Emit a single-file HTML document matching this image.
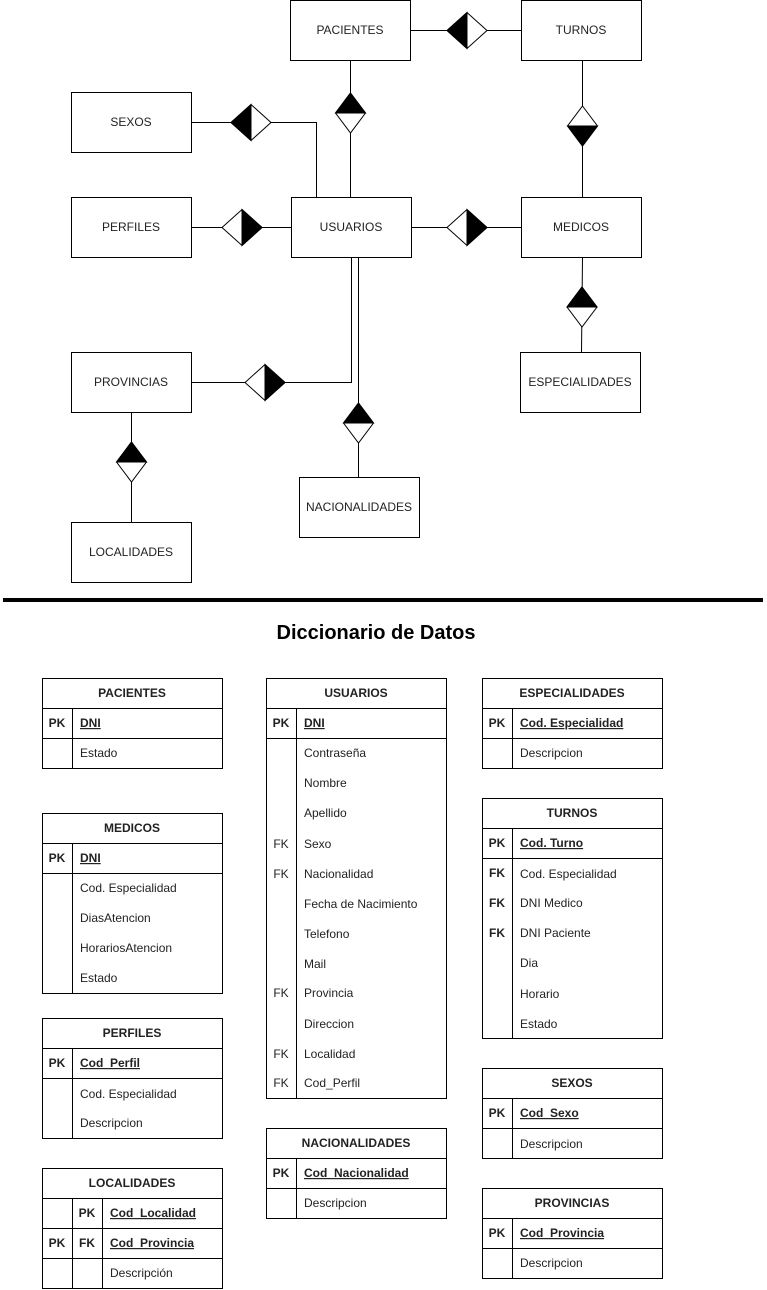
<!DOCTYPE html>
<html><head><meta charset="utf-8"><style>
html,body{margin:0;padding:0;background:#fff;width:767px;height:1290px;overflow:hidden}
svg{display:block;font-family:"Liberation Sans",sans-serif}
</style></head><body>
<svg width="767" height="1290" viewBox="0 0 767 1290" xmlns="http://www.w3.org/2000/svg">
<g fill="#fff" stroke="#000" stroke-width="1">
<rect x="290.5" y="0.5" width="120" height="60"/>
<rect x="521.5" y="0.5" width="120" height="60"/>
<rect x="71.5" y="92.5" width="120" height="60"/>
<rect x="71.5" y="197.5" width="120" height="60"/>
<rect x="291.5" y="197.5" width="120" height="60"/>
<rect x="521.5" y="197.5" width="120" height="60"/>
<rect x="71.5" y="352.5" width="120" height="60"/>
<rect x="520.5" y="352.5" width="120" height="60"/>
<rect x="299.5" y="477.5" width="120" height="60"/>
<rect x="71.5" y="522.5" width="120" height="60"/>
</g>
<g fill="none" stroke="#000" stroke-width="1">
<path d="M410.5 30.5H521.5"/>
<path d="M350.5 60.5V197.5"/>
<path d="M191.5 122.5H316.5V197.5"/>
<path d="M191.5 227.5H291.5"/>
<path d="M411.5 227.5H521.5"/>
<path d="M582.5 60.5V197.5"/>
<path d="M582.5 257.5L581.5 352.5"/>
<path d="M191.5 382.5H351.5V257.5"/>
<path d="M358.5 257.5V477.5"/>
<path d="M131.5 412.5V522.5"/>
</g>
<g stroke="#000" stroke-width="1">
<polygon points="447,30.5 467,12.5 487,30.5 467,48.5" fill="#fff"/><polygon points="447,30.5 467,12.5 467,48.5" fill="#000"/>
<polygon points="231,122.5 251,104.5 271,122.5 251,140.5" fill="#fff"/><polygon points="231,122.5 251,104.5 251,140.5" fill="#000"/>
<polygon points="222,227.5 242,209.5 262,227.5 242,245.5" fill="#fff"/><polygon points="262,227.5 242,209.5 242,245.5" fill="#000"/>
<polygon points="447,227.5 467,209.5 487,227.5 467,245.5" fill="#fff"/><polygon points="487,227.5 467,209.5 467,245.5" fill="#000"/>
<polygon points="245,382.5 265,364.5 285,382.5 265,400.5" fill="#fff"/><polygon points="285,382.5 265,364.5 265,400.5" fill="#000"/>
<polygon points="350.5,93 365.5,113 350.5,133 335.5,113" fill="#fff"/><polygon points="350.5,93 365.5,113 335.5,113" fill="#000"/>
<polygon points="582.5,106 597.5,126 582.5,146 567.5,126" fill="#fff"/><polygon points="582.5,146 597.5,126 567.5,126" fill="#000"/>
<polygon points="582,287 597,307 582,327 567,307" fill="#fff"/><polygon points="582,287 597,307 567,307" fill="#000"/>
<polygon points="358.5,403 373.5,423 358.5,443 343.5,423" fill="#fff"/><polygon points="358.5,403 373.5,423 343.5,423" fill="#000"/>
<polygon points="131.5,442 146.5,462 131.5,482 116.5,462" fill="#fff"/><polygon points="131.5,442 146.5,462 116.5,462" fill="#000"/>
</g>
<g font-size="12" fill="#222" text-anchor="middle">
<text x="350" y="34">PACIENTES</text>
<text x="581" y="34">TURNOS</text>
<text x="131" y="126">SEXOS</text>
<text x="131" y="231">PERFILES</text>
<text x="351" y="231">USUARIOS</text>
<text x="581" y="231">MEDICOS</text>
<text x="131" y="386">PROVINCIAS</text>
<text x="580" y="386">ESPECIALIDADES</text>
<text x="359" y="511">NACIONALIDADES</text>
<text x="131" y="556">LOCALIDADES</text>
</g>
<rect x="3" y="598" width="760" height="4" fill="#000"/>
<text x="376" y="639" font-size="20" font-weight="bold" text-anchor="middle" fill="#000">Diccionario de Datos</text>

<g fill="none" stroke="#000" stroke-width="1">
<rect x="42.5" y="678.5" width="180" height="90"/><path d="M42.5 708.5H222.5M42.5 738.5H222.5M72.5 708.5V768.5"/>
<rect x="42.5" y="813.5" width="180" height="180"/><path d="M42.5 843.5H222.5M42.5 873.5H222.5M72.5 843.5V993.5"/>
<rect x="42.5" y="1018.5" width="180" height="120"/><path d="M42.5 1048.5H222.5M42.5 1078.5H222.5M72.5 1048.5V1138.5"/>
<rect x="42.5" y="1168.5" width="180" height="120"/><path d="M42.5 1198.5H222.5M42.5 1228.5H222.5M42.5 1258.5H222.5M72.5 1198.5V1288.5M102.5 1198.5V1288.5"/>
<rect x="266.5" y="678.5" width="180" height="420"/><path d="M266.5 708.5H446.5M266.5 738.5H446.5M296.5 708.5V1098.5"/>
<rect x="266.5" y="1128.5" width="180" height="90"/><path d="M266.5 1158.5H446.5M266.5 1188.5H446.5M296.5 1158.5V1218.5"/>
<rect x="482.5" y="678.5" width="180" height="90"/><path d="M482.5 708.5H662.5M482.5 738.5H662.5M512.5 708.5V768.5"/>
<rect x="482.5" y="798.5" width="180" height="240"/><path d="M482.5 828.5H662.5M482.5 858.5H662.5M512.5 828.5V1038.5"/>
<rect x="482.5" y="1068.5" width="180" height="90"/><path d="M482.5 1098.5H662.5M482.5 1128.5H662.5M512.5 1098.5V1158.5"/>
<rect x="482.5" y="1188.5" width="180" height="90"/><path d="M482.5 1218.5H662.5M482.5 1248.5H662.5M512.5 1218.5V1278.5"/>
</g>

<g font-size="12" fill="#222">
<g font-weight="bold" text-anchor="middle">
<text x="132" y="697">PACIENTES</text>
<text x="132" y="832">MEDICOS</text>
<text x="132" y="1037">PERFILES</text>
<text x="132" y="1187">LOCALIDADES</text>
<text x="356" y="697">USUARIOS</text>
<text x="356" y="1147">NACIONALIDADES</text>
<text x="572" y="697">ESPECIALIDADES</text>
<text x="572" y="817">TURNOS</text>
<text x="572" y="1087">SEXOS</text>
<text x="572" y="1207">PROVINCIAS</text>
<text x="57" y="727">PK</text>
<text x="57" y="862">PK</text>
<text x="57" y="1067">PK</text>
<text x="87" y="1217">PK</text>
<text x="57" y="1247">PK</text>
<text x="87" y="1247">FK</text>
<text x="281" y="727">PK</text>
<text x="281" y="1177">PK</text>
<text x="497" y="727">PK</text>
<text x="497" y="847">PK</text>
<text x="497" y="877">FK</text>
<text x="497" y="907">FK</text>
<text x="497" y="937">FK</text>
<text x="497" y="1117">PK</text>
<text x="497" y="1237">PK</text>
</g>
<g font-weight="bold" text-decoration="underline">
<text x="80" y="727">DNI</text>
<text x="80" y="862">DNI</text>
<text x="80" y="1067">Cod_Perfil</text>
<text x="110" y="1217">Cod_Localidad</text>
<text x="110" y="1247">Cod_Provincia</text>
<text x="304" y="727">DNI</text>
<text x="304" y="1177">Cod_Nacionalidad</text>
<text x="520" y="727">Cod. Especialidad</text>
<text x="520" y="847">Cod. Turno</text>
<text x="520" y="1117">Cod_Sexo</text>
<text x="520" y="1237">Cod_Provincia</text>
</g>
<g text-anchor="middle">
<text x="281" y="848">FK</text>
<text x="281" y="878">FK</text>
<text x="281" y="997">FK</text>
<text x="281" y="1058">FK</text>
<text x="281" y="1087">FK</text>
</g>
<text x="80" y="757">Estado</text>
<text x="80" y="892">Cod. Especialidad</text>
<text x="80" y="922">DiasAtencion</text>
<text x="80" y="952">HorariosAtencion</text>
<text x="80" y="982">Estado</text>
<text x="80" y="1098">Cod. Especialidad</text>
<text x="80" y="1127">Descripcion</text>
<text x="110" y="1277">Descripción</text>
<text x="304" y="757">Contraseña</text>
<text x="304" y="787">Nombre</text>
<text x="304" y="817">Apellido</text>
<text x="304" y="848">Sexo</text>
<text x="304" y="878">Nacionalidad</text>
<text x="304" y="908">Fecha de Nacimiento</text>
<text x="304" y="938">Telefono</text>
<text x="304" y="968">Mail</text>
<text x="304" y="997">Provincia</text>
<text x="304" y="1028">Direccion</text>
<text x="304" y="1058">Localidad</text>
<text x="304" y="1087">Cod_Perfil</text>
<text x="304" y="1207">Descripcion</text>
<text x="520" y="757">Descripcion</text>
<text x="520" y="878">Cod. Especialidad</text>
<text x="520" y="907">DNI Medico</text>
<text x="520" y="937">DNI Paciente</text>
<text x="520" y="967">Dia</text>
<text x="520" y="998">Horario</text>
<text x="520" y="1028">Estado</text>
<text x="520" y="1148">Descripcion</text>
<text x="520" y="1267">Descripcion</text>
</g>
</svg>
</body></html>
